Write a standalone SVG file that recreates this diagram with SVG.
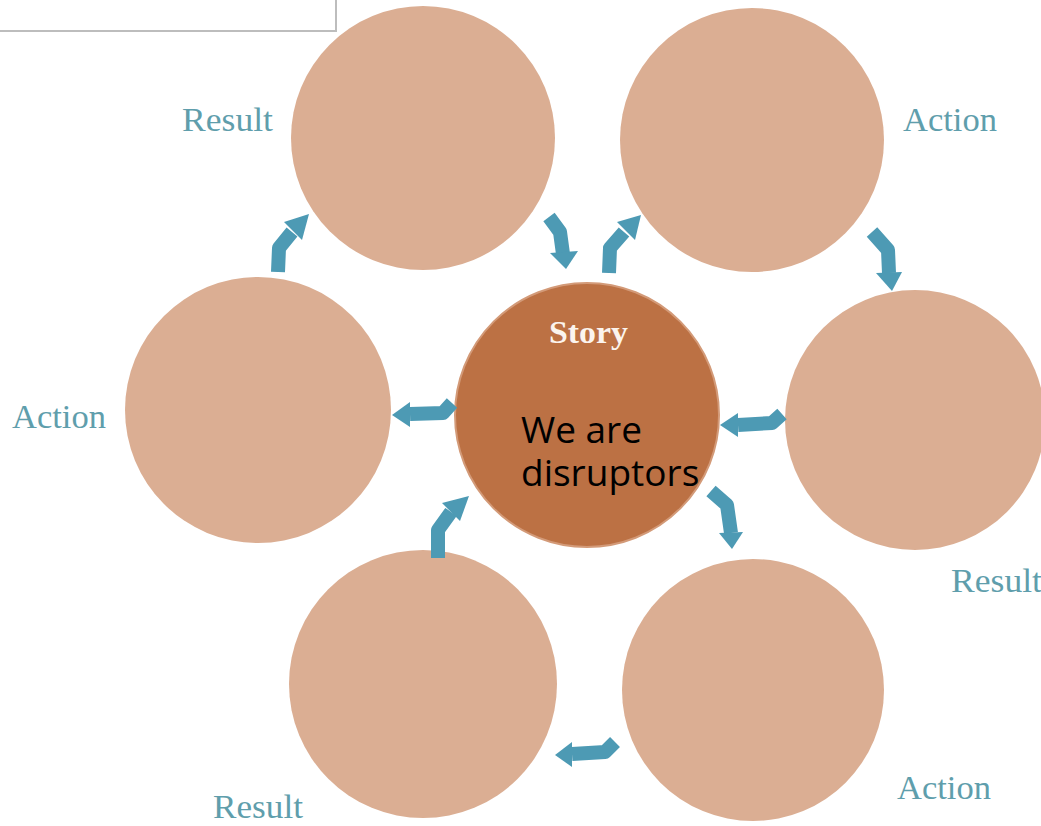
<svg xmlns="http://www.w3.org/2000/svg" width="1041" height="826" viewBox="0 0 1041 826">
<style>
.c{fill:#dbae93}
.lbl{font-family:"Liberation Serif","DejaVu Serif",serif;font-size:34px;fill:#5f9eac}
.ab{fill:none;stroke:#4d9ab4;stroke-width:14;stroke-linejoin:round}
.ah{fill:#4d9ab4}
</style>
<rect x="-2" y="-2" width="338" height="33" fill="#fff" stroke="#bdbdbd" stroke-width="2"/>
<g id="n-result-tl"><circle class="c" cx="423" cy="138" r="132"/><text class="lbl" x="182" y="131" textLength="91" lengthAdjust="spacingAndGlyphs">Result</text></g>
<g id="n-action-tr"><circle class="c" cx="752" cy="140" r="132"/><text class="lbl" x="903" y="131" textLength="94" lengthAdjust="spacingAndGlyphs">Action</text></g>
<g id="n-result-r"><circle class="c" cx="915" cy="420" r="130"/><text class="lbl" x="951" y="592" textLength="91" lengthAdjust="spacingAndGlyphs">Result</text></g>
<g id="n-action-l"><circle class="c" cx="258" cy="410" r="133"/><text class="lbl" x="12" y="428" textLength="94" lengthAdjust="spacingAndGlyphs">Action</text></g>
<g id="n-result-bl"><circle class="c" cx="423" cy="684" r="134"/><text class="lbl" x="213" y="818" textLength="90" lengthAdjust="spacingAndGlyphs">Result</text></g>
<g id="n-action-br"><circle class="c" cx="753" cy="690" r="131"/><text class="lbl" x="897" y="799" textLength="94" lengthAdjust="spacingAndGlyphs">Action</text></g>
<g id="n-story">
<circle cx="587" cy="415" r="132" fill="#bc7144" stroke="#d39a78" stroke-width="2"/>
<text x="549" y="343" font-family="Liberation Serif,DejaVu Serif,serif" font-weight="bold" font-size="32" fill="#fbf4ee" textLength="79" lengthAdjust="spacingAndGlyphs">Story</text>
<text font-family="Open Sans,Liberation Sans,sans-serif" font-size="37" fill="#000"><tspan x="521" y="443">We are</tspan><tspan x="521" y="486">disruptors</tspan></text>
</g>
<g id="connectors">
<path class="ab" d="M549,217 L560,232 L563,254"/><polygon class="ah" points="550,253 578,251 566,269"/>
<path class="ab" d="M609,273 L610,248 L624,232"/><polygon class="ah" points="617,222 635,240 641,215"/>
<path class="ab" d="M278,272 L279,248 L292,232"/><polygon class="ah" points="284,222 302,240 309,214"/>
<path class="ab" d="M872,232 L888,250 L889,273"/><polygon class="ah" points="876,273 902,272 892,291"/>
<path class="ab" d="M452,403 L443,413 L410,414"/><polygon class="ah" points="410,402 410,427 392,415"/>
<path class="ab" d="M782,414 L772,423 L738,425"/><polygon class="ah" points="738,413 738,437 720,425"/>
<path class="ab" d="M438,558 L438,530 L451,512"/><polygon class="ah" points="442,503 460,521 469,496"/>
<path class="ab" d="M711,491 L727,505 L731,533"/><polygon class="ah" points="719,533 743,532 732,549"/>
<path class="ab" d="M615,742 L605,752 L572,754"/><polygon class="ah" points="572,742 572,767 555,755"/>
</g>
</svg>
